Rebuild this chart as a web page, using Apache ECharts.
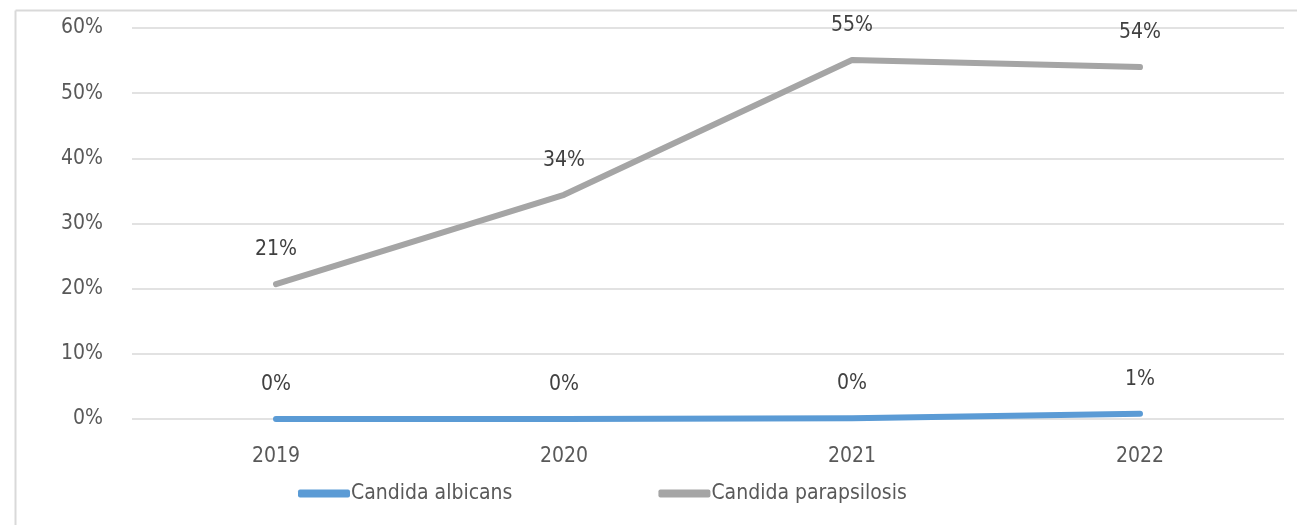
<!DOCTYPE html>
<html>
<head>
<meta charset="utf-8">
<script src="https://cdn.jsdelivr.net/npm/echarts@6/dist/echarts.min.js"></script>
<style>
  html, body { margin: 0; padding: 0; background: #fff; }
  #chart { width: 1297px; height: 525px; }
</style>
</head>
<body>
<div id="chart"></div>
<script>
// years on the x axis
var years = ['2019', '2020', '2021', '2022'];
// share per year, in percent
var albicans = [0, 0, 0.1, 0.8];
var parapsilosis = [20.7, 34.4, 55.1, 54.0];
var yTicks = [0, 10, 20, 30, 40, 50, 60];

var textFont = '"Liberation Sans Narrow", "DejaVu Sans Condensed", "Open Sans", sans-serif';
var textColor = '#595959';

var chart = echarts.init(document.getElementById('chart'), null, {renderer: 'canvas'});

function lineSeries(name, data, color) {
    return {
        name: name,
        type: 'line',
        data: data,
        symbol: 'circle',
        symbolSize: 0.01,
        showSymbol: true,
        lineStyle: {color: color, width: 6, cap: 'round', join: 'round'},
        itemStyle: {color: color},
        label: {
            show: true,
            position: 'top',
            distance: 24,
            color: '#404040',
            fontFamily: textFont,
            fontSize: 21,
            formatter: function (p) { return Math.round(p.value) + '%'; }
        },
        z: 3
    };
}

var option = {
    animation: false,
    backgroundColor: '#fff',
    textStyle: {fontFamily: textFont},
    grid: {left: 132, right: 13, top: 28, bottom: 106},
    legend: {
        left: 293,
        top: 478,
        itemWidth: 52,
        itemHeight: 8,
        itemGap: 146,
        textStyle: {color: textColor, fontSize: 21, fontFamily: textFont, padding: [0, 0, 0, -4]},
        data: [
            {name: 'Candida albicans', icon: 'roundRect'},
            {name: 'Candida parapsilosis', icon: 'roundRect'}
        ]
    },
    xAxis: {
        type: 'category',
        data: years,
        boundaryGap: true,
        axisLine: {show: false},
        axisTick: {show: false},
        axisLabel: {color: textColor, fontSize: 21, fontFamily: textFont, margin: 27}
    },
    yAxis: {
        type: 'value',
        min: 0,
        max: 60,
        interval: 10,
        axisLine: {show: false},
        axisTick: {show: false},
        splitLine: {lineStyle: {color: '#d9d9d9', width: 1.5}},
        axisLabel: {
            color: textColor, fontSize: 21, fontFamily: textFont, margin: 29,
            formatter: function (v) { return yTicks.indexOf(v) >= 0 ? v + '%' : ''; }
        }
    },
    graphic: [
        {type: 'line', shape: {x1: 15.5, y1: 10.5, x2: 1297, y2: 10.5}, style: {stroke: '#d9d9d9', lineWidth: 2}},
        {type: 'line', shape: {x1: 15.5, y1: 10.5, x2: 15.5, y2: 525}, style: {stroke: '#d9d9d9', lineWidth: 2}}
    ],
    series: [
        lineSeries('Candida albicans', albicans, '#5B9BD5'),
        lineSeries('Candida parapsilosis', parapsilosis, '#A5A5A5')
    ]
};

chart.setOption(option);
</script>
</body>
</html>
